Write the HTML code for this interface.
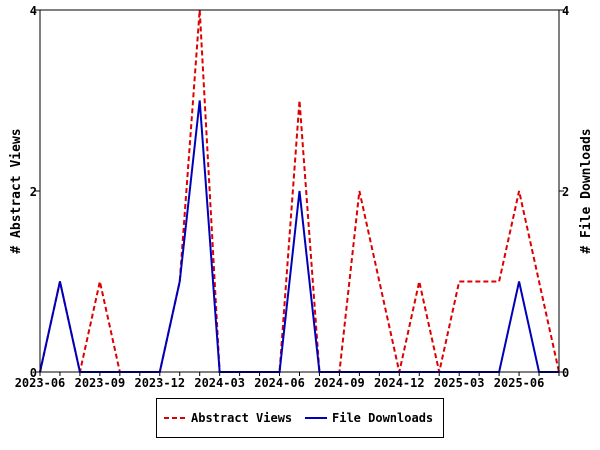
<!DOCTYPE html>
<html><head><meta charset="utf-8"><style>
html,body{margin:0;padding:0;background:#fff;}
svg{display:block;font-family:"DejaVu Sans Mono","Liberation Mono",monospace;font-weight:bold;}
</style></head><body>
<svg id="chart" width="600" height="450" viewBox="0 0 600 450">
<rect width="600" height="450" fill="#fff"/>
<g id="grid"></g>
<g id="series"></g>
<rect x="40" y="10" width="519" height="362" fill="none" stroke="#000" stroke-width="1"/>
<text x="20" y="191" font-size="13" text-anchor="middle" transform="rotate(-90 20 191)"># Abstract Views</text>
<text x="590" y="191" font-size="13" text-anchor="middle" transform="rotate(-90 590 191)"># File Downloads</text>
<g>
<rect x="156.5" y="398.5" width="287" height="39" fill="#fff" stroke="#000"/>
<line x1="164" y1="418" x2="186" y2="418" stroke="#dd0000" stroke-width="2" stroke-dasharray="5,3"/>
<text x="191" y="422" font-size="12">Abstract Views</text>
<line x1="305" y1="418" x2="327" y2="418" stroke="#0000bb" stroke-width="2"/>
<text x="332" y="422" font-size="12">File Downloads</text>
</g>
</svg>
<script>
const months = ["2023-06","2023-07","2023-08","2023-09","2023-10","2023-11","2023-12","2024-01","2024-02","2024-03","2024-04","2024-05","2024-06","2024-07","2024-08","2024-09","2024-10","2024-11","2024-12","2025-01","2025-02","2025-03","2025-04","2025-05","2025-06","2025-07","2025-08"];
const abstractViews = [0,1,0,1,0,0,0,1,4,0,0,0,0,3,0,0,2,1,0,1,0,1,1,1,2,1,0];
const fileDownloads = [0,1,0,0,0,0,0,1,3,0,0,0,0,2,0,0,0,0,0,0,0,0,0,0,1,0,0];
const xLabels = ["2023-06","2023-09","2023-12","2024-03","2024-06","2024-09","2024-12","2025-03","2025-06"];
const yTicks = [0,2,4];

const NS = "http://www.w3.org/2000/svg";
const x0 = 40, x1 = 559, y0 = 372, y1 = 10, yMax = 4;
const xs = i => x0 + (x1 - x0) * i / (months.length - 1);
const ys = v => y0 - (y0 - y1) * v / yMax;
const grid = document.getElementById("grid");
const series = document.getElementById("series");
function mk(tag, attrs, parent) {
  const el = document.createElementNS(NS, tag);
  for (const k in attrs) el.setAttribute(k, attrs[k]);
  parent.appendChild(el);
  return el;
}
months.forEach((m, i) => {
  const t = mk("line", {x1: xs(i), x2: xs(i), y1: y0, y2: y0 + 4, stroke: "#000"}, grid);
  
  
  if (xLabels.includes(m)) {
    const l = mk("text", {x: xs(i), y: y0 + 15, "font-size": 12, "text-anchor": "middle"}, grid);
    l.textContent = m;
    
    
  }
});
yTicks.forEach(v => {
  const a = mk("line", {x1: x0 - 5, x2: x0, y1: ys(v), y2: ys(v), stroke: "#000"}, grid);
  
  
  const b = mk("line", {x1: x1, x2: x1 + 5, y1: ys(v), y2: ys(v), stroke: "#000"}, grid);
  
  
  const la = mk("text", {x: x0 - 3, y: ys(v) + 5, "font-size": 12, "text-anchor": "end"}, grid);
  la.textContent = v;
  
  
  const lb = mk("text", {x: x1 + 3, y: ys(v) + 5, "font-size": 12}, grid);
  lb.textContent = v;
  
  
});
const pv = mk("polyline", {points: abstractViews.map((v, i) => xs(i) + "," + ys(v)).join(" "), fill: "none", stroke: "#dd0000", "stroke-width": 2, "stroke-dasharray": "5,3"}, series);


const pd = mk("polyline", {points: fileDownloads.map((v, i) => xs(i) + "," + ys(v)).join(" "), fill: "none", stroke: "#0000bb", "stroke-width": 2}, series);


</script>
</body></html>
